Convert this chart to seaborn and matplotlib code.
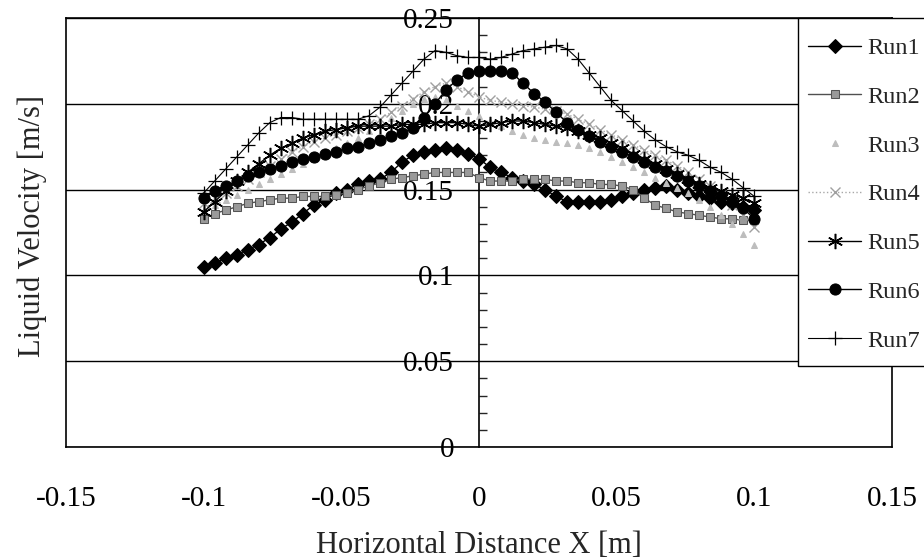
import numpy as np
import seaborn as sns
import matplotlib.pyplot as plt
from matplotlib.patches import Rectangle
from matplotlib.ticker import MultipleLocator

# horizontal positions of the measuring points [m]
x_pos = [-0.100, -0.096, -0.092, -0.088, -0.084, -0.080, -0.076, -0.072, -0.068, -0.064,
         -0.060, -0.056, -0.052, -0.048, -0.044, -0.040, -0.036, -0.032, -0.028, -0.024,
         -0.020, -0.016, -0.012, -0.008, -0.004, 0.000, 0.004, 0.008, 0.012, 0.016,
         0.020, 0.024, 0.028, 0.032, 0.036, 0.040, 0.044, 0.048, 0.052, 0.056,
         0.060, 0.064, 0.068, 0.072, 0.076, 0.080, 0.084, 0.088, 0.092, 0.096, 0.100]

run1 = [0.105, 0.107, 0.110, 0.112, 0.115, 0.118, 0.122, 0.127, 0.131, 0.136,
        0.141, 0.144, 0.148, 0.150, 0.153, 0.155, 0.156, 0.160, 0.166, 0.170,
        0.172, 0.173, 0.174, 0.173, 0.171, 0.168, 0.163, 0.160, 0.157, 0.155,
        0.153, 0.150, 0.146, 0.143, 0.143, 0.143, 0.143, 0.144, 0.146, 0.148,
        0.150, 0.151, 0.152, 0.150, 0.148, 0.146, 0.145, 0.143, 0.142, 0.140, 0.138]

run2 = [0.133, 0.136, 0.138, 0.140, 0.142, 0.143, 0.144, 0.145, 0.145, 0.146,
        0.146, 0.146, 0.147, 0.148, 0.150, 0.152, 0.154, 0.156, 0.157, 0.158,
        0.159, 0.160, 0.160, 0.160, 0.160, 0.157, 0.155, 0.155, 0.155, 0.156,
        0.156, 0.156, 0.155, 0.155, 0.154, 0.154, 0.153, 0.153, 0.152, 0.150,
        0.145, 0.141, 0.139, 0.137, 0.136, 0.135, 0.134, 0.133, 0.133, 0.132, 0.132]

run3 = [0.138, 0.141, 0.144, 0.147, 0.150, 0.153, 0.156, 0.159, 0.162, 0.165,
        0.168, 0.171, 0.174, 0.177, 0.180, 0.184, 0.188, 0.192, 0.196, 0.200,
        0.203, 0.204, 0.202, 0.199, 0.196, 0.193, 0.190, 0.187, 0.184, 0.182,
        0.180, 0.179, 0.178, 0.177, 0.176, 0.174, 0.172, 0.169, 0.166, 0.163,
        0.160, 0.157, 0.154, 0.151, 0.148, 0.144, 0.140, 0.135, 0.130, 0.124, 0.118]

run4 = [0.142, 0.145, 0.148, 0.152, 0.156, 0.160, 0.164, 0.168, 0.172, 0.175,
        0.178, 0.180, 0.182, 0.184, 0.186, 0.188, 0.191, 0.195, 0.199, 0.203,
        0.207, 0.210, 0.212, 0.210, 0.207, 0.204, 0.202, 0.201, 0.200, 0.199,
        0.198, 0.197, 0.196, 0.194, 0.191, 0.188, 0.185, 0.182, 0.179, 0.176,
        0.173, 0.170, 0.167, 0.164, 0.160, 0.156, 0.152, 0.147, 0.141, 0.135, 0.128]

run5 = [0.137, 0.143, 0.149, 0.155, 0.160, 0.165, 0.170, 0.174, 0.177, 0.180,
        0.182, 0.184, 0.185, 0.186, 0.187, 0.187, 0.187, 0.187, 0.188, 0.188,
        0.188, 0.189, 0.189, 0.189, 0.188, 0.187, 0.188, 0.189, 0.190, 0.190,
        0.189, 0.188, 0.187, 0.186, 0.184, 0.182, 0.180, 0.177, 0.174, 0.171,
        0.168, 0.165, 0.162, 0.159, 0.156, 0.153, 0.151, 0.149, 0.147, 0.145, 0.142]

run6 = [0.145, 0.149, 0.152, 0.155, 0.158, 0.160, 0.162, 0.164, 0.166, 0.168,
        0.169, 0.171, 0.172, 0.174, 0.175, 0.177, 0.179, 0.181, 0.183, 0.186,
        0.192, 0.200, 0.208, 0.214, 0.218, 0.219, 0.219, 0.219, 0.218, 0.212,
        0.206, 0.201, 0.195, 0.189, 0.185, 0.181, 0.178, 0.175, 0.172, 0.169,
        0.166, 0.163, 0.161, 0.158, 0.155, 0.152, 0.149, 0.146, 0.143, 0.139, 0.133]

run7 = [0.148, 0.155, 0.162, 0.169, 0.176, 0.183, 0.189, 0.192, 0.192, 0.191,
        0.191, 0.191, 0.191, 0.191, 0.191, 0.193, 0.198, 0.205, 0.212, 0.219,
        0.226, 0.231, 0.230, 0.228, 0.227, 0.227, 0.226, 0.227, 0.229, 0.231,
        0.232, 0.233, 0.234, 0.232, 0.226, 0.218, 0.210, 0.202, 0.196, 0.190,
        0.184, 0.179, 0.175, 0.172, 0.170, 0.167, 0.163, 0.160, 0.156, 0.151, 0.146]

run_names = ["Run1", "Run2", "Run3", "Run4", "Run5", "Run6", "Run7"]
run_values = [run1, run2, run3, run4, run5, run6, run7]

styles = {
    "Run1": dict(color="black", marker="D", markersize=7.2, mec="black", lw=1),
    "Run2": dict(color="#505050", marker="s", markersize=6, mfc="#9a9a9a",
                 mec="#555555", lw=1),
    "Run3": dict(color="#bdbdbd", marker="^", markersize=4, mec="#bdbdbd", lw=0),
    "Run4": dict(color="#a8a8a8", marker="x", markersize=7, mec="#a0a0a0",
                 mew=1, lw=1, ls=":"),
    "Run5": dict(color="black", marker=(6, 2, 0), markersize=11, mec="black",
                 mew=1.1, lw=1),
    "Run6": dict(color="black", marker="o", markersize=8, mec="black", lw=1),
    "Run7": dict(color="black", marker="+", markersize=10, mec="black",
                 mew=0.9, lw=0.8),
}

sns.set_style("white")
plt.rcParams["font.family"] = ["Liberation Serif", "DejaVu Serif"]

fig = plt.figure(figsize=(9.24, 5.6), dpi=100)
ax = fig.add_axes([66 / 924, 1 - 447 / 560, (892 - 66) / 924, (447 - 18) / 560])

for name, vals in zip(run_names, run_values):
    sns.lineplot(x=x_pos, y=vals, ax=ax, label=name, **styles[name])

ax.set_xlim(-0.15, 0.15)
ax.set_ylim(0, 0.25)

for sp in ax.spines.values():
    sp.set_color("black")
    sp.set_linewidth(1.2)

# horizontal gridlines, main y ticks hidden
ax.set_yticks([0, 0.05, 0.1, 0.15, 0.2, 0.25])
ax.tick_params(axis="y", left=False, labelleft=False)
ax.grid(axis="y", color="black", lw=1)
ax.set_axisbelow(True)

# x axis
ax.set_xticks([-0.15, -0.1, -0.05, 0, 0.05, 0.1, 0.15])
ax.set_xticklabels(["-0.15", "-0.1", "-0.05", "0", "0.05", "0.1", "0.15"])
ax.xaxis.set_minor_locator(MultipleLocator(0.01))
ax.tick_params(axis="x", which="major", direction="inout", length=12, width=1,
               labelsize=21, pad=22, colors="black")
ax.tick_params(axis="x", which="minor", direction="in", length=5, width=1)

# y axis through x = 0
sec = ax.secondary_yaxis(0.5)
sec.set_alignment("left")
sec.set_yticks([0, 0.05, 0.1, 0.15, 0.2, 0.25])
sec.set_yticklabels(["0", "0.05", "0.1", "0.15", "0.2", "0.25"])
sec.yaxis.set_minor_locator(MultipleLocator(0.01))
sec.tick_params(axis="y", which="major", length=0, labelsize=21, pad=18, colors="black")
sec.tick_params(axis="y", which="minor", direction="in", length=6, width=1)
sec.spines["left"].set_linewidth(1.2)
sec.spines["left"].set_color("black")

ax.set_xlabel("Horizontal Distance X [m]", fontsize=22, labelpad=14)
ax.set_ylabel("Liquid Velocity [m/s]", fontsize=22)
ax.yaxis.set_label_coords(-0.0225, 0.515)

# legend box sits over the top right of the plot and runs to the figure edge
handles, labels = ax.get_legend_handles_labels()
ax.get_legend().remove()
fig.add_artist(Rectangle((798 / 924, 1 - 366 / 560), (930 - 798) / 924, (366 - 18) / 560,
                         transform=fig.transFigure, facecolor="white",
                         edgecolor="black", lw=1, zorder=2))
leg = fig.legend(handles, labels, loc="upper left",
                 bbox_to_anchor=(808 / 924, 1 - 37 / 560), borderaxespad=0,
                 fontsize=17.5, frameon=False, handlelength=2.2, handletextpad=0.25,
                 labelspacing=1.1, borderpad=0)
leg.set_zorder(3)

fig.savefig("out.png", dpi=100)
